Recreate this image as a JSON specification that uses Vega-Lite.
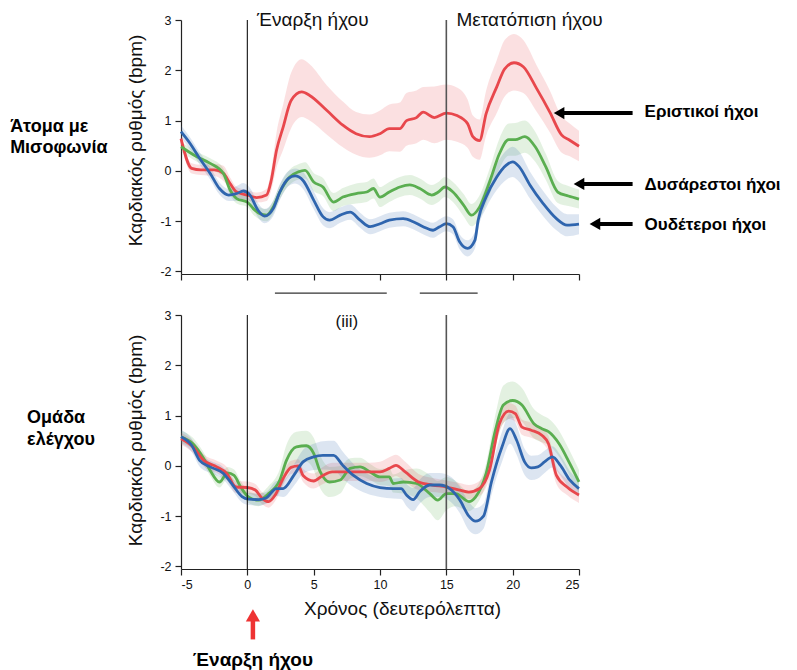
{
"$schema": "https://vega.github.io/schema/vega-lite/v6.json",
"padding": {"left": 10, "top": 11, "right": 0, "bottom": 0},
"spacing": 41,
"bounds": "flush",
"config": {
  "view": {"stroke": null},
  "font": "Liberation Sans",
  "axis": {"grid": false, "domainColor": "#222", "tickColor": "#222", "labelColor": "#111", "titleColor": "#111", "labelFont": "Liberation Sans", "titleFont": "Liberation Sans", "labelFontSize": 12.5, "titleFontSize": 19, "titleFontWeight": "normal", "tickSize": 6, "domainWidth": 1.2, "tickWidth": 1.2, "labelExpr": "replace(datum.label, '\u2212', '-')"}
},
"datasets": {
  "curves": [
    {"p":"a","g":"aversive","x":-5,"y":0.64,"lo":0.54,"hi":0.74},
    {"p":"a","g":"aversive","x":-4.2,"y":0.05,"lo":-0.05,"hi":0.15},
    {"p":"a","g":"aversive","x":-3.5,"y":0.02,"lo":-0.08,"hi":0.12},
    {"p":"a","g":"aversive","x":-2.5,"y":0.02,"lo":-0.10,"hi":0.14},
    {"p":"a","g":"aversive","x":-1.8,"y":-0.05,"lo":-0.20,"hi":0.10},
    {"p":"a","g":"aversive","x":-1.3,"y":-0.25,"lo":-0.37,"hi":-0.13},
    {"p":"a","g":"aversive","x":-0.8,"y":-0.42,"lo":-0.52,"hi":-0.32},
    {"p":"a","g":"aversive","x":0,"y":-0.48,"lo":-0.58,"hi":-0.38},
    {"p":"a","g":"aversive","x":0.7,"y":-0.53,"lo":-0.63,"hi":-0.43},
    {"p":"a","g":"aversive","x":1.45,"y":-0.48,"lo":-0.60,"hi":-0.36},
    {"p":"a","g":"aversive","x":1.8,"y":-0.19,"lo":-0.39,"hi":0.01},
    {"p":"a","g":"aversive","x":2.2,"y":0.41,"lo":0.06,"hi":0.76},
    {"p":"a","g":"aversive","x":2.7,"y":0.87,"lo":0.42,"hi":1.32},
    {"p":"a","g":"aversive","x":3.3,"y":1.4,"lo":0.85,"hi":1.95},
    {"p":"a","g":"aversive","x":4.1,"y":1.57,"lo":1.07,"hi":2.22},
    {"p":"a","g":"aversive","x":4.7,"y":1.5,"lo":1.0,"hi":2.12},
    {"p":"a","g":"aversive","x":6.0,"y":1.2,"lo":0.72,"hi":1.7},
    {"p":"a","g":"aversive","x":7.2,"y":0.91,"lo":0.47,"hi":1.38},
    {"p":"a","g":"aversive","x":8.2,"y":0.74,"lo":0.32,"hi":1.17},
    {"p":"a","g":"aversive","x":9.2,"y":0.68,"lo":0.26,"hi":1.12},
    {"p":"a","g":"aversive","x":10,"y":0.74,"lo":0.31,"hi":1.2},
    {"p":"a","g":"aversive","x":10.7,"y":0.84,"lo":0.39,"hi":1.32},
    {"p":"a","g":"aversive","x":11.5,"y":0.84,"lo":0.38,"hi":1.36},
    {"p":"a","g":"aversive","x":12.0,"y":1.0,"lo":0.5,"hi":1.55},
    {"p":"a","g":"aversive","x":12.75,"y":1.06,"lo":0.55,"hi":1.6},
    {"p":"a","g":"aversive","x":13.25,"y":1.17,"lo":0.62,"hi":1.67},
    {"p":"a","g":"aversive","x":14.1,"y":1.06,"lo":0.55,"hi":1.68},
    {"p":"a","g":"aversive","x":15,"y":1.15,"lo":0.62,"hi":1.72},
    {"p":"a","g":"aversive","x":15.8,"y":1.1,"lo":0.58,"hi":1.66},
    {"p":"a","g":"aversive","x":16.6,"y":0.94,"lo":0.46,"hi":1.42},
    {"p":"a","g":"aversive","x":17.0,"y":0.68,"lo":0.28,"hi":1.1},
    {"p":"a","g":"aversive","x":17.5,"y":0.6,"lo":0.22,"hi":1.02},
    {"p":"a","g":"aversive","x":18.0,"y":1.14,"lo":0.7,"hi":1.6},
    {"p":"a","g":"aversive","x":18.8,"y":1.67,"lo":1.15,"hi":2.2},
    {"p":"a","g":"aversive","x":19.4,"y":2.03,"lo":1.48,"hi":2.6},
    {"p":"a","g":"aversive","x":20.1,"y":2.15,"lo":1.6,"hi":2.72},
    {"p":"a","g":"aversive","x":20.8,"y":2.07,"lo":1.55,"hi":2.6},
    {"p":"a","g":"aversive","x":21.8,"y":1.64,"lo":1.18,"hi":2.1},
    {"p":"a","g":"aversive","x":22.8,"y":1.17,"lo":0.77,"hi":1.6},
    {"p":"a","g":"aversive","x":23.7,"y":0.71,"lo":0.36,"hi":1.08},
    {"p":"a","g":"aversive","x":24.3,"y":0.61,"lo":0.29,"hi":0.94},
    {"p":"a","g":"aversive","x":25,"y":0.49,"lo":0.19,"hi":0.8},

    {"p":"a","g":"unpleasant","x":-5,"y":0.48,"lo":0.38,"hi":0.58},
    {"p":"a","g":"unpleasant","x":-3.8,"y":0.28,"lo":0.18,"hi":0.38},
    {"p":"a","g":"unpleasant","x":-2.8,"y":0.15,"lo":0.05,"hi":0.25},
    {"p":"a","g":"unpleasant","x":-1.8,"y":-0.05,"lo":-0.15,"hi":0.05},
    {"p":"a","g":"unpleasant","x":-1.3,"y":-0.38,"lo":-0.48,"hi":-0.28},
    {"p":"a","g":"unpleasant","x":-0.8,"y":-0.55,"lo":-0.65,"hi":-0.45},
    {"p":"a","g":"unpleasant","x":0,"y":-0.62,"lo":-0.72,"hi":-0.52},
    {"p":"a","g":"unpleasant","x":0.45,"y":-0.75,"lo":-0.87,"hi":-0.63},
    {"p":"a","g":"unpleasant","x":0.95,"y":-0.85,"lo":-0.97,"hi":-0.73},
    {"p":"a","g":"unpleasant","x":1.45,"y":-0.88,"lo":-1.0,"hi":-0.76},
    {"p":"a","g":"unpleasant","x":1.95,"y":-0.72,"lo":-0.85,"hi":-0.59},
    {"p":"a","g":"unpleasant","x":2.45,"y":-0.42,"lo":-0.56,"hi":-0.28},
    {"p":"a","g":"unpleasant","x":3.2,"y":-0.12,"lo":-0.27,"hi":0.03},
    {"p":"a","g":"unpleasant","x":3.85,"y":-0.02,"lo":-0.17,"hi":0.13},
    {"p":"a","g":"unpleasant","x":4.35,"y":0.01,"lo":-0.15,"hi":0.17},
    {"p":"a","g":"unpleasant","x":5.0,"y":-0.22,"lo":-0.4,"hi":-0.04},
    {"p":"a","g":"unpleasant","x":5.7,"y":-0.32,"lo":-0.5,"hi":-0.14},
    {"p":"a","g":"unpleasant","x":6.5,"y":-0.62,"lo":-0.8,"hi":-0.44},
    {"p":"a","g":"unpleasant","x":7.2,"y":-0.52,"lo":-0.7,"hi":-0.34},
    {"p":"a","g":"unpleasant","x":8.2,"y":-0.45,"lo":-0.65,"hi":-0.25},
    {"p":"a","g":"unpleasant","x":9.0,"y":-0.42,"lo":-0.62,"hi":-0.22},
    {"p":"a","g":"unpleasant","x":9.5,"y":-0.35,"lo":-0.55,"hi":-0.15},
    {"p":"a","g":"unpleasant","x":10,"y":-0.52,"lo":-0.72,"hi":-0.32},
    {"p":"a","g":"unpleasant","x":10.7,"y":-0.42,"lo":-0.62,"hi":-0.22},
    {"p":"a","g":"unpleasant","x":11.5,"y":-0.32,"lo":-0.52,"hi":-0.12},
    {"p":"a","g":"unpleasant","x":12.25,"y":-0.28,"lo":-0.48,"hi":-0.08},
    {"p":"a","g":"unpleasant","x":13,"y":-0.35,"lo":-0.55,"hi":-0.15},
    {"p":"a","g":"unpleasant","x":13.9,"y":-0.48,"lo":-0.68,"hi":-0.28},
    {"p":"a","g":"unpleasant","x":14.4,"y":-0.42,"lo":-0.62,"hi":-0.22},
    {"p":"a","g":"unpleasant","x":14.9,"y":-0.32,"lo":-0.52,"hi":-0.12},
    {"p":"a","g":"unpleasant","x":15.5,"y":-0.42,"lo":-0.62,"hi":-0.22},
    {"p":"a","g":"unpleasant","x":16.3,"y":-0.68,"lo":-0.9,"hi":-0.46},
    {"p":"a","g":"unpleasant","x":16.9,"y":-0.88,"lo":-1.1,"hi":-0.66},
    {"p":"a","g":"unpleasant","x":17.5,"y":-0.72,"lo":-0.95,"hi":-0.49},
    {"p":"a","g":"unpleasant","x":18.3,"y":-0.19,"lo":-0.45,"hi":0.07},
    {"p":"a","g":"unpleasant","x":19.0,"y":0.34,"lo":0.04,"hi":0.64},
    {"p":"a","g":"unpleasant","x":19.7,"y":0.62,"lo":0.3,"hi":0.94},
    {"p":"a","g":"unpleasant","x":20.2,"y":0.62,"lo":0.3,"hi":0.95},
    {"p":"a","g":"unpleasant","x":20.9,"y":0.68,"lo":0.36,"hi":1.0},
    {"p":"a","g":"unpleasant","x":21.7,"y":0.48,"lo":0.18,"hi":0.78},
    {"p":"a","g":"unpleasant","x":22.5,"y":0.08,"lo":-0.18,"hi":0.34},
    {"p":"a","g":"unpleasant","x":23.4,"y":-0.42,"lo":-0.64,"hi":-0.2},
    {"p":"a","g":"unpleasant","x":24.2,"y":-0.5,"lo":-0.7,"hi":-0.3},
    {"p":"a","g":"unpleasant","x":25,"y":-0.56,"lo":-0.75,"hi":-0.37},

    {"p":"a","g":"neutral","x":-5,"y":0.78,"lo":0.66,"hi":0.9},
    {"p":"a","g":"neutral","x":-4.3,"y":0.54,"lo":0.42,"hi":0.66},
    {"p":"a","g":"neutral","x":-3.6,"y":0.25,"lo":0.13,"hi":0.37},
    {"p":"a","g":"neutral","x":-2.8,"y":-0.05,"lo":-0.17,"hi":0.07},
    {"p":"a","g":"neutral","x":-2.1,"y":-0.35,"lo":-0.47,"hi":-0.23},
    {"p":"a","g":"neutral","x":-1.4,"y":-0.48,"lo":-0.6,"hi":-0.36},
    {"p":"a","g":"neutral","x":-0.8,"y":-0.45,"lo":-0.6,"hi":-0.3},
    {"p":"a","g":"neutral","x":-0.3,"y":-0.4,"lo":-0.56,"hi":-0.24},
    {"p":"a","g":"neutral","x":0.2,"y":-0.48,"lo":-0.62,"hi":-0.34},
    {"p":"a","g":"neutral","x":0.8,"y":-0.78,"lo":-0.92,"hi":-0.64},
    {"p":"a","g":"neutral","x":1.3,"y":-0.9,"lo":-1.04,"hi":-0.76},
    {"p":"a","g":"neutral","x":1.95,"y":-0.75,"lo":-0.9,"hi":-0.6},
    {"p":"a","g":"neutral","x":2.45,"y":-0.42,"lo":-0.58,"hi":-0.26},
    {"p":"a","g":"neutral","x":3.1,"y":-0.15,"lo":-0.3,"hi":0.0},
    {"p":"a","g":"neutral","x":3.6,"y":-0.1,"lo":-0.25,"hi":0.05},
    {"p":"a","g":"neutral","x":4.2,"y":-0.19,"lo":-0.36,"hi":-0.02},
    {"p":"a","g":"neutral","x":5.0,"y":-0.58,"lo":-0.76,"hi":-0.4},
    {"p":"a","g":"neutral","x":5.7,"y":-0.91,"lo":-1.08,"hi":-0.74},
    {"p":"a","g":"neutral","x":6.2,"y":-0.98,"lo":-1.14,"hi":-0.82},
    {"p":"a","g":"neutral","x":7.0,"y":-0.88,"lo":-1.03,"hi":-0.73},
    {"p":"a","g":"neutral","x":7.75,"y":-0.82,"lo":-0.97,"hi":-0.67},
    {"p":"a","g":"neutral","x":8.5,"y":-0.98,"lo":-1.13,"hi":-0.83},
    {"p":"a","g":"neutral","x":9.25,"y":-1.11,"lo":-1.26,"hi":-0.96},
    {"p":"a","g":"neutral","x":10,"y":-1.05,"lo":-1.2,"hi":-0.9},
    {"p":"a","g":"neutral","x":10.7,"y":-0.98,"lo":-1.13,"hi":-0.83},
    {"p":"a","g":"neutral","x":11.75,"y":-0.95,"lo":-1.1,"hi":-0.8},
    {"p":"a","g":"neutral","x":12.5,"y":-1.01,"lo":-1.16,"hi":-0.86},
    {"p":"a","g":"neutral","x":13.25,"y":-1.11,"lo":-1.26,"hi":-0.96},
    {"p":"a","g":"neutral","x":14,"y":-1.18,"lo":-1.33,"hi":-1.03},
    {"p":"a","g":"neutral","x":14.5,"y":-1.11,"lo":-1.26,"hi":-0.96},
    {"p":"a","g":"neutral","x":15,"y":-1.05,"lo":-1.2,"hi":-0.9},
    {"p":"a","g":"neutral","x":15.5,"y":-1.11,"lo":-1.26,"hi":-0.96},
    {"p":"a","g":"neutral","x":16,"y":-1.41,"lo":-1.56,"hi":-1.26},
    {"p":"a","g":"neutral","x":16.6,"y":-1.54,"lo":-1.7,"hi":-1.38},
    {"p":"a","g":"neutral","x":17.15,"y":-1.38,"lo":-1.55,"hi":-1.21},
    {"p":"a","g":"neutral","x":17.4,"y":-0.98,"lo":-1.16,"hi":-0.8},
    {"p":"a","g":"neutral","x":18,"y":-0.52,"lo":-0.74,"hi":-0.3},
    {"p":"a","g":"neutral","x":18.8,"y":-0.12,"lo":-0.38,"hi":0.14},
    {"p":"a","g":"neutral","x":19.5,"y":0.11,"lo":-0.18,"hi":0.4},
    {"p":"a","g":"neutral","x":20,"y":0.18,"lo":-0.12,"hi":0.48},
    {"p":"a","g":"neutral","x":20.5,"y":0.08,"lo":-0.22,"hi":0.38},
    {"p":"a","g":"neutral","x":21.3,"y":-0.28,"lo":-0.55,"hi":-0.01},
    {"p":"a","g":"neutral","x":22.3,"y":-0.65,"lo":-0.9,"hi":-0.4},
    {"p":"a","g":"neutral","x":23.3,"y":-0.95,"lo":-1.18,"hi":-0.72},
    {"p":"a","g":"neutral","x":24.1,"y":-1.08,"lo":-1.3,"hi":-0.86},
    {"p":"a","g":"neutral","x":25,"y":-1.06,"lo":-1.26,"hi":-0.86},

    {"p":"b","g":"unpleasant","x":-5,"y":0.58,"lo":0.46,"hi":0.7},
    {"p":"b","g":"unpleasant","x":-4.1,"y":0.44,"lo":0.32,"hi":0.56},
    {"p":"b","g":"unpleasant","x":-3.3,"y":0.15,"lo":0.03,"hi":0.27},
    {"p":"b","g":"unpleasant","x":-2.8,"y":-0.09,"lo":-0.2,"hi":0.02},
    {"p":"b","g":"unpleasant","x":-2.1,"y":-0.32,"lo":-0.43,"hi":-0.21},
    {"p":"b","g":"unpleasant","x":-1.5,"y":-0.14,"lo":-0.26,"hi":-0.02},
    {"p":"b","g":"unpleasant","x":-1.0,"y":-0.19,"lo":-0.31,"hi":-0.07},
    {"p":"b","g":"unpleasant","x":-0.5,"y":-0.42,"lo":-0.54,"hi":-0.3},
    {"p":"b","g":"unpleasant","x":0.1,"y":-0.62,"lo":-0.74,"hi":-0.5},
    {"p":"b","g":"unpleasant","x":0.85,"y":-0.68,"lo":-0.8,"hi":-0.56},
    {"p":"b","g":"unpleasant","x":1.6,"y":-0.55,"lo":-0.7,"hi":-0.4},
    {"p":"b","g":"unpleasant","x":2.45,"y":-0.28,"lo":-0.5,"hi":-0.06},
    {"p":"b","g":"unpleasant","x":2.95,"y":0.11,"lo":-0.2,"hi":0.42},
    {"p":"b","g":"unpleasant","x":3.7,"y":0.38,"lo":0.05,"hi":0.68},
    {"p":"b","g":"unpleasant","x":4.45,"y":0.4,"lo":0.08,"hi":0.7},
    {"p":"b","g":"unpleasant","x":5.0,"y":0.25,"lo":-0.08,"hi":0.56},
    {"p":"b","g":"unpleasant","x":5.5,"y":-0.12,"lo":-0.45,"hi":0.2},
    {"p":"b","g":"unpleasant","x":6.2,"y":-0.32,"lo":-0.62,"hi":-0.02},
    {"p":"b","g":"unpleasant","x":7.0,"y":-0.28,"lo":-0.55,"hi":0.0},
    {"p":"b","g":"unpleasant","x":7.75,"y":-0.05,"lo":-0.25,"hi":0.15},
    {"p":"b","g":"unpleasant","x":8.5,"y":-0.02,"lo":-0.2,"hi":0.16},
    {"p":"b","g":"unpleasant","x":9.25,"y":-0.12,"lo":-0.28,"hi":0.04},
    {"p":"b","g":"unpleasant","x":10,"y":-0.22,"lo":-0.38,"hi":-0.06},
    {"p":"b","g":"unpleasant","x":10.7,"y":-0.22,"lo":-0.4,"hi":-0.04},
    {"p":"b","g":"unpleasant","x":11,"y":-0.35,"lo":-0.53,"hi":-0.17},
    {"p":"b","g":"unpleasant","x":11.75,"y":-0.32,"lo":-0.55,"hi":-0.09},
    {"p":"b","g":"unpleasant","x":12.75,"y":-0.35,"lo":-0.65,"hi":-0.05},
    {"p":"b","g":"unpleasant","x":13.75,"y":-0.55,"lo":-0.92,"hi":-0.18},
    {"p":"b","g":"unpleasant","x":14.35,"y":-0.68,"lo":-1.08,"hi":-0.3},
    {"p":"b","g":"unpleasant","x":15,"y":-0.55,"lo":-0.88,"hi":-0.22},
    {"p":"b","g":"unpleasant","x":15.7,"y":-0.55,"lo":-0.8,"hi":-0.3},
    {"p":"b","g":"unpleasant","x":16.7,"y":-0.71,"lo":-0.9,"hi":-0.52},
    {"p":"b","g":"unpleasant","x":17.2,"y":-0.62,"lo":-0.8,"hi":-0.44},
    {"p":"b","g":"unpleasant","x":18,"y":-0.15,"lo":-0.35,"hi":0.05},
    {"p":"b","g":"unpleasant","x":18.7,"y":0.71,"lo":0.4,"hi":1.02},
    {"p":"b","g":"unpleasant","x":19.3,"y":1.21,"lo":0.85,"hi":1.6},
    {"p":"b","g":"unpleasant","x":20.0,"y":1.3,"lo":0.95,"hi":1.68},
    {"p":"b","g":"unpleasant","x":20.7,"y":1.21,"lo":0.88,"hi":1.55},
    {"p":"b","g":"unpleasant","x":21.6,"y":0.84,"lo":0.55,"hi":1.13},
    {"p":"b","g":"unpleasant","x":22.2,"y":0.74,"lo":0.47,"hi":1.01},
    {"p":"b","g":"unpleasant","x":22.7,"y":0.68,"lo":0.42,"hi":0.94},
    {"p":"b","g":"unpleasant","x":23.5,"y":0.44,"lo":0.18,"hi":0.7},
    {"p":"b","g":"unpleasant","x":24.3,"y":0.05,"lo":-0.2,"hi":0.3},
    {"p":"b","g":"unpleasant","x":25,"y":-0.32,"lo":-0.55,"hi":-0.08},

    {"p":"b","g":"aversive","x":-5,"y":0.54,"lo":0.42,"hi":0.66},
    {"p":"b","g":"aversive","x":-4.1,"y":0.38,"lo":0.26,"hi":0.5},
    {"p":"b","g":"aversive","x":-3.3,"y":0.11,"lo":-0.01,"hi":0.23},
    {"p":"b","g":"aversive","x":-2.3,"y":-0.02,"lo":-0.14,"hi":0.1},
    {"p":"b","g":"aversive","x":-1.55,"y":-0.15,"lo":-0.28,"hi":-0.02},
    {"p":"b","g":"aversive","x":-0.85,"y":-0.42,"lo":-0.54,"hi":-0.3},
    {"p":"b","g":"aversive","x":0,"y":-0.43,"lo":-0.55,"hi":-0.31},
    {"p":"b","g":"aversive","x":0.6,"y":-0.48,"lo":-0.6,"hi":-0.36},
    {"p":"b","g":"aversive","x":1.1,"y":-0.64,"lo":-0.76,"hi":-0.52},
    {"p":"b","g":"aversive","x":1.6,"y":-0.71,"lo":-0.83,"hi":-0.59},
    {"p":"b","g":"aversive","x":2.1,"y":-0.58,"lo":-0.7,"hi":-0.46},
    {"p":"b","g":"aversive","x":2.7,"y":-0.25,"lo":-0.38,"hi":-0.12},
    {"p":"b","g":"aversive","x":3.3,"y":-0.03,"lo":-0.16,"hi":0.1},
    {"p":"b","g":"aversive","x":3.85,"y":0.0,"lo":-0.13,"hi":0.13},
    {"p":"b","g":"aversive","x":4.2,"y":-0.19,"lo":-0.32,"hi":-0.06},
    {"p":"b","g":"aversive","x":5.0,"y":-0.3,"lo":-0.45,"hi":-0.15},
    {"p":"b","g":"aversive","x":5.7,"y":-0.19,"lo":-0.36,"hi":-0.02},
    {"p":"b","g":"aversive","x":6.4,"y":-0.12,"lo":-0.3,"hi":0.06},
    {"p":"b","g":"aversive","x":7.65,"y":-0.12,"lo":-0.3,"hi":0.06},
    {"p":"b","g":"aversive","x":9.2,"y":-0.12,"lo":-0.3,"hi":0.06},
    {"p":"b","g":"aversive","x":10,"y":-0.12,"lo":-0.32,"hi":0.08},
    {"p":"b","g":"aversive","x":10.7,"y":-0.05,"lo":-0.27,"hi":0.17},
    {"p":"b","g":"aversive","x":11.2,"y":0.01,"lo":-0.2,"hi":0.22},
    {"p":"b","g":"aversive","x":11.9,"y":-0.12,"lo":-0.32,"hi":0.08},
    {"p":"b","g":"aversive","x":12.9,"y":-0.32,"lo":-0.48,"hi":-0.16},
    {"p":"b","g":"aversive","x":13.95,"y":-0.38,"lo":-0.52,"hi":-0.24},
    {"p":"b","g":"aversive","x":15,"y":-0.42,"lo":-0.55,"hi":-0.29},
    {"p":"b","g":"aversive","x":16,"y":-0.48,"lo":-0.62,"hi":-0.34},
    {"p":"b","g":"aversive","x":16.7,"y":-0.52,"lo":-0.66,"hi":-0.38},
    {"p":"b","g":"aversive","x":17.5,"y":-0.45,"lo":-0.6,"hi":-0.3},
    {"p":"b","g":"aversive","x":18.25,"y":-0.09,"lo":-0.25,"hi":0.07},
    {"p":"b","g":"aversive","x":19,"y":0.84,"lo":0.68,"hi":1.0},
    {"p":"b","g":"aversive","x":19.7,"y":1.09,"lo":0.93,"hi":1.25},
    {"p":"b","g":"aversive","x":20.2,"y":1.04,"lo":0.88,"hi":1.2},
    {"p":"b","g":"aversive","x":20.7,"y":0.77,"lo":0.62,"hi":0.92},
    {"p":"b","g":"aversive","x":21.4,"y":0.71,"lo":0.56,"hi":0.86},
    {"p":"b","g":"aversive","x":22.2,"y":0.61,"lo":0.46,"hi":0.76},
    {"p":"b","g":"aversive","x":22.7,"y":0.44,"lo":0.28,"hi":0.6},
    {"p":"b","g":"aversive","x":23.3,"y":-0.19,"lo":-0.36,"hi":-0.02},
    {"p":"b","g":"aversive","x":24.1,"y":-0.42,"lo":-0.58,"hi":-0.26},
    {"p":"b","g":"aversive","x":25,"y":-0.58,"lo":-0.74,"hi":-0.42},

    {"p":"b","g":"neutral","x":-5,"y":0.58,"lo":0.44,"hi":0.72},
    {"p":"b","g":"neutral","x":-4.2,"y":0.41,"lo":0.28,"hi":0.54},
    {"p":"b","g":"neutral","x":-3.6,"y":0.11,"lo":-0.01,"hi":0.23},
    {"p":"b","g":"neutral","x":-2.8,"y":-0.02,"lo":-0.14,"hi":0.1},
    {"p":"b","g":"neutral","x":-1.8,"y":-0.15,"lo":-0.27,"hi":-0.03},
    {"p":"b","g":"neutral","x":-1.1,"y":-0.38,"lo":-0.5,"hi":-0.26},
    {"p":"b","g":"neutral","x":-0.4,"y":-0.61,"lo":-0.73,"hi":-0.49},
    {"p":"b","g":"neutral","x":0.1,"y":-0.66,"lo":-0.78,"hi":-0.54},
    {"p":"b","g":"neutral","x":0.85,"y":-0.67,"lo":-0.79,"hi":-0.55},
    {"p":"b","g":"neutral","x":1.4,"y":-0.64,"lo":-0.76,"hi":-0.52},
    {"p":"b","g":"neutral","x":2.2,"y":-0.45,"lo":-0.6,"hi":-0.3},
    {"p":"b","g":"neutral","x":2.7,"y":-0.45,"lo":-0.62,"hi":-0.28},
    {"p":"b","g":"neutral","x":3.5,"y":-0.19,"lo":-0.4,"hi":0.02},
    {"p":"b","g":"neutral","x":4.2,"y":0.08,"lo":-0.16,"hi":0.32},
    {"p":"b","g":"neutral","x":5,"y":0.18,"lo":-0.08,"hi":0.44},
    {"p":"b","g":"neutral","x":5.7,"y":0.21,"lo":-0.07,"hi":0.49},
    {"p":"b","g":"neutral","x":6.5,"y":0.21,"lo":-0.08,"hi":0.5},
    {"p":"b","g":"neutral","x":7.2,"y":0.01,"lo":-0.26,"hi":0.28},
    {"p":"b","g":"neutral","x":8,"y":-0.19,"lo":-0.42,"hi":0.04},
    {"p":"b","g":"neutral","x":9.0,"y":-0.35,"lo":-0.55,"hi":-0.15},
    {"p":"b","g":"neutral","x":10,"y":-0.43,"lo":-0.62,"hi":-0.24},
    {"p":"b","g":"neutral","x":11,"y":-0.45,"lo":-0.65,"hi":-0.25},
    {"p":"b","g":"neutral","x":11.6,"y":-0.45,"lo":-0.66,"hi":-0.24},
    {"p":"b","g":"neutral","x":12,"y":-0.58,"lo":-0.8,"hi":-0.36},
    {"p":"b","g":"neutral","x":12.5,"y":-0.67,"lo":-0.9,"hi":-0.44},
    {"p":"b","g":"neutral","x":13,"y":-0.51,"lo":-0.75,"hi":-0.27},
    {"p":"b","g":"neutral","x":13.75,"y":-0.38,"lo":-0.62,"hi":-0.14},
    {"p":"b","g":"neutral","x":14.5,"y":-0.38,"lo":-0.62,"hi":-0.14},
    {"p":"b","g":"neutral","x":15.25,"y":-0.45,"lo":-0.7,"hi":-0.2},
    {"p":"b","g":"neutral","x":16,"y":-0.67,"lo":-0.93,"hi":-0.41},
    {"p":"b","g":"neutral","x":16.7,"y":-1.0,"lo":-1.28,"hi":-0.72},
    {"p":"b","g":"neutral","x":17.2,"y":-1.1,"lo":-1.36,"hi":-0.84},
    {"p":"b","g":"neutral","x":17.8,"y":-1.0,"lo":-1.25,"hi":-0.75},
    {"p":"b","g":"neutral","x":18.4,"y":-0.32,"lo":-0.58,"hi":-0.06},
    {"p":"b","g":"neutral","x":19.2,"y":0.38,"lo":0.08,"hi":0.68},
    {"p":"b","g":"neutral","x":19.8,"y":0.74,"lo":0.44,"hi":1.04},
    {"p":"b","g":"neutral","x":20.3,"y":0.51,"lo":0.22,"hi":0.8},
    {"p":"b","g":"neutral","x":20.9,"y":0.08,"lo":-0.18,"hi":0.34},
    {"p":"b","g":"neutral","x":21.4,"y":-0.04,"lo":-0.28,"hi":0.2},
    {"p":"b","g":"neutral","x":21.9,"y":-0.02,"lo":-0.25,"hi":0.21},
    {"p":"b","g":"neutral","x":22.4,"y":0.08,"lo":-0.14,"hi":0.3},
    {"p":"b","g":"neutral","x":23.0,"y":0.18,"lo":-0.03,"hi":0.39},
    {"p":"b","g":"neutral","x":23.6,"y":0.01,"lo":-0.19,"hi":0.21},
    {"p":"b","g":"neutral","x":24.3,"y":-0.28,"lo":-0.46,"hi":-0.1},
    {"p":"b","g":"neutral","x":25,"y":-0.45,"lo":-0.62,"hi":-0.28}
  ]
},
"vconcat": [
  {
    "width": 398, "height": 254,
    "layer": [
      {
        "data": {"name": "curves"},
        "transform": [{"filter": "datum.p === 'a'"}],
        "mark": {"type": "area", "interpolate": "monotone", "opacity": 0.17},
        "encoding": {
          "x": {"field": "x", "type": "quantitative", "scale": {"domain": [-5, 25], "nice": false, "zero": false}},
          "y": {"field": "lo", "type": "quantitative", "scale": {"domain": [-2.05, 3], "nice": false, "zero": false}},
          "y2": {"field": "hi"},
          "color": {"field": "g", "type": "nominal", "scale": {"domain": ["aversive", "unpleasant", "neutral"], "range": ["#E8474C", "#5AAE50", "#2F65AE"]}, "legend": null}
        }
      },
      {
        "data": {"name": "curves"},
        "transform": [{"filter": "datum.p === 'a'"}],
        "mark": {"type": "line", "interpolate": "monotone", "strokeWidth": 2.8},
        "encoding": {
          "x": {"field": "x", "type": "quantitative", "scale": {"domain": [-5, 25], "nice": false, "zero": false}, "axis": {"values": [-5, 0, 5, 10, 15, 20, 25], "labels": false, "title": null}},
          "y": {"field": "y", "type": "quantitative", "scale": {"domain": [-2.05, 3], "nice": false, "zero": false}, "axis": {"values": [-2, -1, 0, 1, 2, 3], "title": "Καρδιακός ρυθμός (bpm)", "labelPadding": 4, "titleX": -46, "titleY": 120, "titleBaseline": "middle", "titleAngle": -90}},
          "color": {"field": "g", "type": "nominal", "scale": {"domain": ["aversive", "unpleasant", "neutral"], "range": ["#E8474C", "#5AAE50", "#2F65AE"]}, "legend": null}
        }
      },
      {
        "data": {"values": [{"x": 0}]},
        "mark": {"type": "rule", "color": "#111", "strokeWidth": 1.1},
        "encoding": {"x": {"field": "x", "type": "quantitative", "scale": {"domain": [-5, 25], "nice": false, "zero": false}}}
      },
      {
        "data": {"values": [{"x": 15}]},
        "mark": {"type": "rule", "color": "#555", "strokeWidth": 1.6},
        "encoding": {"x": {"field": "x", "type": "quantitative", "scale": {"domain": [-5, 25], "nice": false, "zero": false}}}
      },
      {
        "data": {"values": [{"x": 0.73, "y": 3, "t": "Έναρξη ήχου"}, {"x": 15.76, "y": 3, "t": "Μετατόπιση ήχου"}]},
        "mark": {"type": "text", "align": "left", "baseline": "middle", "fontSize": 19, "color": "#111"},
        "encoding": {
          "x": {"field": "x", "type": "quantitative", "scale": {"domain": [-5, 25], "nice": false, "zero": false}},
          "y": {"field": "y", "type": "quantitative", "scale": {"domain": [-2.05, 3], "nice": false, "zero": false}},
          "text": {"field": "t"}
        }
      },
      {
        "data": {"values": [{"x": 2.08, "x2": 10.51, "y": -2.43}, {"x": 13.0, "x2": 17.36, "y": -2.43}]},
        "mark": {"type": "rule", "color": "#333", "strokeWidth": 1.2},
        "encoding": {
          "x": {"field": "x", "type": "quantitative", "scale": {"domain": [-5, 25], "nice": false, "zero": false}},
          "x2": {"field": "x2"},
          "y": {"field": "y", "type": "quantitative", "scale": {"domain": [-2.05, 3], "nice": false, "zero": false}}
        }
      },
      {
        "data": {"values": [{"x": 23.7, "x2": 29.04, "y": 1.15}, {"x": 25.2, "x2": 29.04, "y": -0.26}, {"x": 26.4, "x2": 29.04, "y": -1.055}]},
        "mark": {"type": "rule", "color": "#000", "strokeWidth": 4},
        "encoding": {
          "x": {"field": "x", "type": "quantitative", "scale": {"domain": [-5, 25], "nice": false, "zero": false}},
          "x2": {"field": "x2"},
          "y": {"field": "y", "type": "quantitative", "scale": {"domain": [-2.05, 3], "nice": false, "zero": false}}
        }
      },
      {
        "data": {"values": [{"x": 23.5, "y": 1.15}, {"x": 25.0, "y": -0.26}, {"x": 26.2, "y": -1.055}]},
        "mark": {"type": "point", "shape": "triangle-left", "filled": true, "color": "#000", "opacity": 1, "size": 150},
        "encoding": {
          "x": {"field": "x", "type": "quantitative", "scale": {"domain": [-5, 25], "nice": false, "zero": false}},
          "y": {"field": "y", "type": "quantitative", "scale": {"domain": [-2.05, 3], "nice": false, "zero": false}}
        }
      },
      {
        "data": {"values": [{"x": 29.94, "y": 1.17, "t": "Εριστικοί ήχοι"}, {"x": 29.94, "y": -0.28, "t": "Δυσάρεστοι ήχοι"}, {"x": 29.94, "y": -1.075, "t": "Ουδέτεροι ήχοι"}]},
        "mark": {"type": "text", "align": "left", "baseline": "middle", "fontSize": 17, "fontWeight": "bold", "color": "#000"},
        "encoding": {
          "x": {"field": "x", "type": "quantitative", "scale": {"domain": [-5, 25], "nice": false, "zero": false}},
          "y": {"field": "y", "type": "quantitative", "scale": {"domain": [-2.05, 3], "nice": false, "zero": false}},
          "text": {"field": "t"}
        }
      },
      {
        "data": {"values": [{"x": -17.88, "y": 0.78, "t": "Άτομα με"}, {"x": -17.88, "y": 0.356, "t": "Μισοφωνία"}]},
        "mark": {"type": "text", "align": "left", "baseline": "alphabetic", "fontSize": 18, "fontWeight": "bold", "color": "#000"},
        "encoding": {
          "x": {"field": "x", "type": "quantitative", "scale": {"domain": [-5, 25], "nice": false, "zero": false}},
          "y": {"field": "y", "type": "quantitative", "scale": {"domain": [-2.05, 3], "nice": false, "zero": false}},
          "text": {"field": "t"}
        }
      }
    ]
  },
  {
    "width": 398, "height": 254,
    "layer": [
      {
        "data": {"name": "curves"},
        "transform": [{"filter": "datum.p === 'b'"}],
        "mark": {"type": "area", "interpolate": "monotone", "opacity": 0.17},
        "encoding": {
          "x": {"field": "x", "type": "quantitative", "scale": {"domain": [-5, 25], "nice": false, "zero": false}},
          "y": {"field": "lo", "type": "quantitative", "scale": {"domain": [-2.05, 3], "nice": false, "zero": false}},
          "y2": {"field": "hi"},
          "color": {"field": "g", "type": "nominal", "scale": {"domain": ["aversive", "unpleasant", "neutral"], "range": ["#E8474C", "#5AAE50", "#2F65AE"]}, "legend": null}
        }
      },
      {
        "data": {"name": "curves"},
        "transform": [{"filter": "datum.p === 'b'"}],
        "mark": {"type": "line", "interpolate": "monotone", "strokeWidth": 2.8},
        "encoding": {
          "x": {"field": "x", "type": "quantitative", "scale": {"domain": [-5, 25], "nice": false, "zero": false}, "axis": {"values": [-5, 0, 5, 10, 15, 20, 25], "title": "Χρόνος (δευτερόλεπτα)", "labelPadding": 3, "titleX": 221, "titleY": 39, "titleBaseline": "middle"}},
          "y": {"field": "y", "type": "quantitative", "scale": {"domain": [-2.05, 3], "nice": false, "zero": false}, "axis": {"values": [-2, -1, 0, 1, 2, 3], "title": "Καρδιακός ρυθμός (bpm)", "labelPadding": 4, "titleX": -46, "titleY": 125, "titleBaseline": "middle", "titleAngle": -90}},
          "color": {"field": "g", "type": "nominal", "scale": {"domain": ["aversive", "unpleasant", "neutral"], "range": ["#E8474C", "#5AAE50", "#2F65AE"]}, "legend": null}
        }
      },
      {
        "data": {"values": [{"x": 0}]},
        "mark": {"type": "rule", "color": "#111", "strokeWidth": 1.1},
        "encoding": {"x": {"field": "x", "type": "quantitative", "scale": {"domain": [-5, 25], "nice": false, "zero": false}}}
      },
      {
        "data": {"values": [{"x": 15}]},
        "mark": {"type": "rule", "color": "#555", "strokeWidth": 1.6},
        "encoding": {"x": {"field": "x", "type": "quantitative", "scale": {"domain": [-5, 25], "nice": false, "zero": false}}}
      },
      {
        "data": {"values": [{"x": 7.5, "y": 2.86, "t": "(iii)"}]},
        "mark": {"type": "text", "align": "center", "baseline": "middle", "fontSize": 17, "color": "#111"},
        "encoding": {
          "x": {"field": "x", "type": "quantitative", "scale": {"domain": [-5, 25], "nice": false, "zero": false}},
          "y": {"field": "y", "type": "quantitative", "scale": {"domain": [-2.05, 3], "nice": false, "zero": false}},
          "text": {"field": "t"}
        }
      },
      {
        "data": {"values": [{"x": -16.6, "y": 0.847, "t": "Ομάδα"}, {"x": -16.6, "y": 0.415, "t": "ελέγχου"}]},
        "mark": {"type": "text", "align": "left", "baseline": "alphabetic", "fontSize": 18, "fontWeight": "bold", "color": "#000"},
        "encoding": {
          "x": {"field": "x", "type": "quantitative", "scale": {"domain": [-5, 25], "nice": false, "zero": false}},
          "y": {"field": "y", "type": "quantitative", "scale": {"domain": [-2.05, 3], "nice": false, "zero": false}},
          "text": {"field": "t"}
        }
      },
      {
        "data": {"values": [{"x": 0.42, "y": -3.45, "y2": -3.0}]},
        "mark": {"type": "rule", "color": "#EE3333", "strokeWidth": 4.5},
        "encoding": {
          "x": {"field": "x", "type": "quantitative", "scale": {"domain": [-5, 25], "nice": false, "zero": false}},
          "y": {"field": "y", "type": "quantitative", "scale": {"domain": [-2.05, 3], "nice": false, "zero": false}},
          "y2": {"field": "y2"}
        }
      },
      {
        "data": {"values": [{"x": 0.42, "y": -2.97}]},
        "mark": {"type": "point", "shape": "triangle-up", "filled": true, "color": "#EE3333", "opacity": 1, "size": 200},
        "encoding": {
          "x": {"field": "x", "type": "quantitative", "scale": {"domain": [-5, 25], "nice": false, "zero": false}},
          "y": {"field": "y", "type": "quantitative", "scale": {"domain": [-2.05, 3], "nice": false, "zero": false}}
        }
      },
      {
        "data": {"values": [{"x": 0.42, "y": -3.85, "t": "Έναρξη ήχου"}]},
        "mark": {"type": "text", "align": "center", "baseline": "middle", "fontSize": 19, "fontWeight": "bold", "color": "#000"},
        "encoding": {
          "x": {"field": "x", "type": "quantitative", "scale": {"domain": [-5, 25], "nice": false, "zero": false}},
          "y": {"field": "y", "type": "quantitative", "scale": {"domain": [-2.05, 3], "nice": false, "zero": false}},
          "text": {"field": "t"}
        }
      }
    ]
  }
]
}
